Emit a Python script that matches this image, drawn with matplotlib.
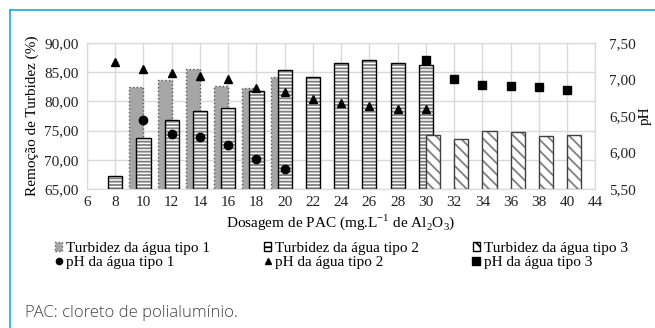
import matplotlib
matplotlib.use("Agg")
import matplotlib.pyplot as plt
from matplotlib.patches import Patch
from matplotlib.lines import Line2D

# dados
x_labels = [6, 8, 10, 12, 14, 16, 18, 20, 22, 24, 26, 28, 30, 32, 34, 36, 38, 40, 44]

dose1 = [10, 12, 14, 16, 18, 20]
turb1 = [82.4, 83.6, 85.5, 82.6, 82.3, 84.1]
ph1 = [6.45, 6.26, 6.22, 6.10, 5.91, 5.78]

dose2 = [8, 10, 12, 14, 16, 18, 20, 22, 24, 26, 28, 30]
turb2 = [67.3, 73.7, 76.9, 78.4, 78.9, 81.8, 85.4, 84.2, 86.6, 87.0, 86.6, 86.2]
ph2 = [7.23, 7.14, 7.09, 7.05, 7.01, 6.88, 6.83, 6.73, 6.68, 6.64, 6.59, 6.59]

dose3 = [30, 32, 34, 36, 38, 40]
turb3 = [74.3, 73.6, 74.9, 74.7, 74.1, 74.2]
ph3 = [7.27, 7.01, 6.92, 6.91, 6.89, 6.85]

yticks_esq = [65, 70, 75, 80, 85, 90]
yticks_dir = [5.5, 6.0, 6.5, 7.0, 7.5]

plt.rcParams['font.family'] = ['Liberation Serif', 'DejaVu Serif']
plt.rcParams['mathtext.fontset'] = 'custom'
plt.rcParams['mathtext.rm'] = 'Liberation Serif'
plt.rcParams['hatch.linewidth'] = 1.3

def pos(doses):
    return [x_labels.index(d) for d in doses]

def virg(v):
    return ('%.2f' % v).replace('.', ',')

fig = plt.figure(figsize=(6.55, 3.28), dpi=100)
ax = fig.add_axes([0.1328, 0.4229, 0.7762, 0.4469])
ax2 = ax.twinx()

w = 0.5
off = 0.25
p1 = [p - off for p in pos(dose1)]
p2 = pos(dose2)
p3 = [p + off for p in pos(dose3)]
base = 65

# tipo 1: cinza com borda pontilhada
ax.bar(p1, [v - base for v in turb1], w, bottom=base, color='#a6a6a6',
       edgecolor='#595959', linestyle=':', linewidth=1.0, zorder=2)
# tipo 2: listras horizontais
ax.bar(p2, [v - base for v in turb2], w, bottom=base, color='white',
       edgecolor='#7f7f7f', hatch='-----', linewidth=0, zorder=3)
ax.bar(p2, [v - base for v in turb2], w, bottom=base, fill=False,
       edgecolor='black', linewidth=1.0, zorder=3)
# tipo 3: listras diagonais
ax.bar(p3, [v - base for v in turb3], w, bottom=base, color='white',
       edgecolor='#7f7f7f', hatch='\\\\\\', linewidth=0, zorder=4)
ax.bar(p3, [v - base for v in turb3], w, bottom=base, fill=False,
       edgecolor='#404040', linewidth=1.0, zorder=4)

ax2.plot(pos(dose1), ph1, 'o', color='black', markersize=6, linestyle='none')
ax2.plot(pos(dose2), ph2, '^', color='black', markersize=6, linestyle='none')
ax2.plot(pos(dose3), ph3, 's', color='black', markersize=6, linestyle='none')

ax.set_xlim(0, len(x_labels) - 1)
ax.set_ylim(65, 90)
ax2.set_ylim(5.5, 7.5)
ax.set_xticks(range(len(x_labels)))
ax.set_xticklabels([str(v) for v in x_labels])
ax.set_yticks(yticks_esq)
ax.set_yticklabels([virg(v) for v in yticks_esq])
ax2.set_yticks(yticks_dir)
ax2.set_yticklabels([virg(v) for v in yticks_dir])

ax.grid(True, color='#d9d9d9', linewidth=1.0, zorder=0)
ax.set_axisbelow(True)
for a in (ax, ax2):
    for s in a.spines.values():
        s.set_color('#d9d9d9')
    a.tick_params(length=0, labelsize=11, colors='#222222')
ax.tick_params(axis='y', pad=6)
ax2.tick_params(axis='y', pad=10)
ax.tick_params(axis='x', pad=5)

ax.set_ylabel('Remoção de Turbidez (%)', fontsize=11, labelpad=4)
ax2.set_ylabel('pH', fontsize=11, labelpad=2)
ax.set_xlabel('Dosagem de PAC (mg.L$^{\\mathrm{-1}}$ de Al$_{\\mathrm{2}}$O$_{\\mathrm{3}}$)',
              fontsize=11, labelpad=2)

handles = [
    Patch(facecolor='#a6a6a6', edgecolor='#595959', linestyle=':'),
    Line2D([], [], marker='o', color='black', linestyle='none', markersize=4.5),
    Patch(facecolor='white', edgecolor='black', hatch='---'),
    Line2D([], [], marker='^', color='black', linestyle='none', markersize=4.5),
    Patch(facecolor='white', edgecolor='black', hatch='\\\\'),
    Line2D([], [], marker='s', color='black', linestyle='none', markersize=5.5),
]
labels = ['Turbidez da água tipo 1', 'pH da água tipo 1',
          'Turbidez da água tipo 2', 'pH da água tipo 2',
          'Turbidez da água tipo 3', 'pH da água tipo 3']
fig.legend(handles, labels, ncol=3, loc='upper left', bbox_to_anchor=(0.072, 0.285),
           frameon=False, fontsize=11, handlelength=0.5, handleheight=0.5,
           handletextpad=0.25, columnspacing=3.5, labelspacing=0.05, borderpad=0)

fig.text(0.038, 0.046, 'PAC: cloreto de polialumínio.', family=['Open Sans', 'DejaVu Sans'],
         fontsize=12, color='#444444', fontweight='light', va='center')

# moldura azul
fig.add_artist(Line2D([0.015, 1.0], [0.970, 0.970], color='#1ba9e0', linewidth=1.2))
fig.add_artist(Line2D([0.015, 0.015], [0.0, 0.970], color='#1ba9e0', linewidth=1.2))

fig.savefig('out.png', dpi=100)
